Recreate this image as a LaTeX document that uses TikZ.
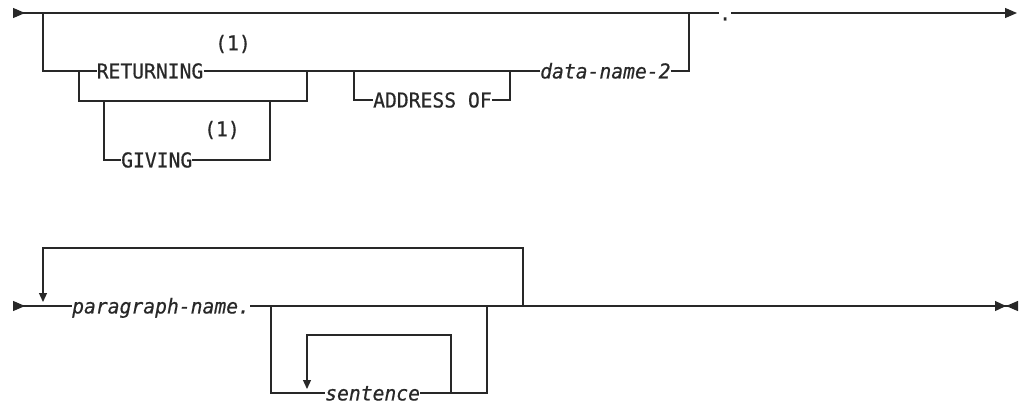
\documentclass[tikz,border=0pt]{standalone}
\usepackage{fontspec}
\setmonofont{DejaVu Sans Mono}[FakeStretch=0.96, FakeBold=0.6]
\usepackage{tikz}
\usetikzlibrary{arrows.meta,positioning,calc}
\definecolor{railgray}{RGB}{40,40,40}
\tikzset{
    rail/.style={line width=1.2pt, railgray},
    kw/.style={inner sep=0pt, text height=14.9pt, text depth=0pt, anchor=west, text=railgray, font=\ttfamily\fontsize{20.5}{22}\selectfont},
    varname/.style={kw, font=\ttfamily\itshape\fontsize{20.5}{22}\selectfont},
    fnote/.style={inner sep=0pt, text=railgray, font=\ttfamily\fontsize{20.5}{22}\selectfont},
    startarr/.style={{Triangle[reversed,length=12pt,width=10pt]}-},
    endarr/.style={-{Triangle[length=12pt,width=10pt]}},
    stoparr/.style={-{Triangle[length=11pt,width=10pt]Triangle[reversed,length=12pt,width=10pt]}},
    looparr/.style={-{Triangle[length=9pt,width=8pt]}},
}

\begin{document}
\begin{tikzpicture}[x=1pt,y=-1pt]
    \useasboundingbox (0,0) rectangle (1024,405);

    % Upper diagram
    \coordinate (s1) at (13,13);
    \coordinate (a) at (43,13);
    \coordinate (b) at (689,13);
    \coordinate (e1) at (1017,13);
    \node[kw] (dot) at (719,13) {.};

    \node[kw] (ret) at (96.5,71) {RETURNING};
    \node[kw] (giv) at (121,160) {GIVING};
    \node[kw] (addr) at (373,100) {ADDRESS OF};
    \node[varname] (dn2) at (540,71) {data-name-2};
    \node[fnote] (fn1) at (233,44) {(1)};
    \node[fnote] (fn2) at (222,130) {(1)};

    \coordinate (r1) at (79,71);
    \coordinate (r2) at (307,71);
    \coordinate (r2b) at (307,101);
    \coordinate (g1) at (104,101);
    \coordinate (g2) at (270,101);
    \coordinate (d1) at (354,71);
    \coordinate (d2) at (510,71);

    \draw[rail, startarr] (s1) -- (a) -- (b) -- (dot.west);
    \draw[rail, endarr] (dot.east) -- (e1);
    \draw[rail] (a) |- (ret.west);
    \draw[rail] (ret.east) -- (dn2.west);
    \draw[rail] (dn2.east) -| (b);
    \draw[rail] (r1) |- (r2b) -- (r2);
    \draw[rail] (g1) |- (giv.west);
    \draw[rail] (giv.east) -| (g2);
    \draw[rail] (d1) |- (addr.west);
    \draw[rail] (addr.east) -| (d2);

    % Lower diagram
    \coordinate (s2) at (13,306);
    \coordinate (e2) at (1018,306);
    \node[varname] (para) at (72,306) {paragraph-name.};
    \node[varname] (sent) at (325,393) {sentence};

    \coordinate (p1) at (271,306);
    \coordinate (p2) at (487,306);
    \coordinate (p3) at (523,306);
    \coordinate (q1) at (523,248);
    \coordinate (lp) at (43,302);
    \coordinate (i1) at (451,393);
    \coordinate (i2) at (451,335);
    \coordinate (i3) at (307,389);
    \coordinate (t1) at (528,306);
    \coordinate (t2) at (552,306);

    \draw[rail, startarr] (s2) -- (para.west);
    \draw[rail, stoparr] (para.east) -- (e2);
    \draw[rail, looparr] (p3) -- (q1) -| (lp);
    \draw[rail] (p1) |- (sent.west);
    \draw[rail] (sent.east) -| (p2);
    \draw[rail, looparr] (i1) -- (i2) -| (i3);
    \draw[railgray, line width=2.4pt] (t1) -- (t2);
\end{tikzpicture}
\end{document}
